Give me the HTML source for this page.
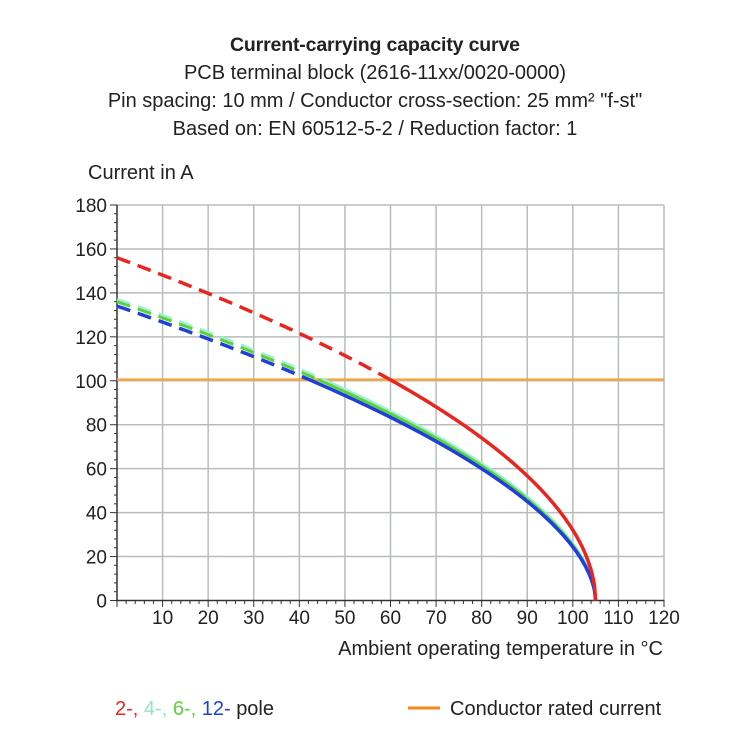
<!DOCTYPE html><html><head><style>body{margin:0;background:#fff}svg text{font-family:"Liberation Sans Narrow","Liberation Sans",sans-serif;fill:#222}</style></head><body>
<svg id="s" width="750" height="750" xmlns="http://www.w3.org/2000/svg">
<text x="375" y="51" font-size="19.5" font-weight="bold" text-anchor="middle" textLength="290">Current-carrying capacity curve</text>
<text x="375" y="79" font-size="20" text-anchor="middle">PCB terminal block (2616-11xx/0020-0000)</text>
<text x="375" y="107" font-size="20" text-anchor="middle">Pin spacing: 10 mm / Conductor cross-section: 25 mm² "f-st"</text>
<text x="375" y="135" font-size="20" text-anchor="middle">Based on: EN 60512-5-2 / Reduction factor: 1</text>
<text x="88" y="179" font-size="20">Current in A</text>
<text x="663" y="655" font-size="20" text-anchor="end">Ambient operating temperature in °C</text>
<g id="g"></g>
<text x="115" y="715" font-size="20"><tspan style="fill:#e8261f">2-, </tspan><tspan style="fill:#8fe8c8">4-, </tspan><tspan style="fill:#5ed13a">6-, </tspan><tspan style="fill:#1e3fd8">12- </tspan> pole</text>
<line x1="408" y1="708" x2="440" y2="708" stroke="#f08a1a" stroke-width="3"/>
<text x="450" y="715" font-size="20">Conductor rated current</text>
</svg>
<script>
var X=t=>117+t*547/120,Y=v=>600.5-v*395.5/180,h='';
for(var i=1;i<=12;i++)h+=`<line x1="${X(i*10)}" y1="205" x2="${X(i*10)}" y2="600.5" stroke="#b8bcbe" stroke-width="1.5"/>`;
for(var j=1;j<=9;j++)h+=`<line x1="117" y1="${Y(j*20)}" x2="664" y2="${Y(j*20)}" stroke="#b8bcbe" stroke-width="1.5"/>`;
h+=`<line x1="117" y1="205" x2="117" y2="601" stroke="#333" stroke-width="1.5"/><line x1="116" y1="600.5" x2="664" y2="600.5" stroke="#333" stroke-width="1.5"/>`;
for(var t=0;t<=120;t+=2)h+=`<line x1="${X(t)}" y1="600" x2="${X(t)}" y2="${t%10?604:607}" stroke="#333"/>`;
for(var v=0;v<=180;v+=4)h+=`<line x1="${v%20?114:110}" y1="${Y(v)}" x2="117" y2="${Y(v)}" stroke="#333"/>`;
for(var i=1;i<=12;i++)h+=`<text x="${X(i*10)}" y="624" font-size="19" text-anchor="middle">${i*10}</text>`;
for(var j=0;j<=9;j++)h+=`<text x="107" y="${Y(j*20)+7}" font-size="19" text-anchor="end">${j*20}</text>`;
h+=`<line x1="117" y1="${Y(100.5)}" x2="664" y2="${Y(100.5)}" stroke="#f5a545" stroke-width="2.5"/>`;
function cur(k,p,c,w){var d1='',d2='',f=T=>k*Math.pow(105-T,p);
for(var T=0;T<=105;T+=0.25){var v=f(T),pt=X(T).toFixed(1)+','+Y(v).toFixed(1)+' ';if(v>=100.5)d1+=pt;else{if(!d2)d2=d1.trim().split(' ').pop()+' ';d2+=pt;}}
h+=`<polyline points="${d1}" fill="none" stroke="${c}" stroke-width="${w}" stroke-dasharray="14 8"/><polyline points="${d2}" fill="none" stroke="${c}" stroke-width="${w}"/>`;}
cur(137/Math.pow(105,0.55),0.55,'#9ff0d4',3.5);
cur(136/Math.pow(105,0.555),0.555,'#5ed13a',3);
cur(134/Math.pow(105,0.56),0.56,'#1e3fd8',3.5);
cur(156/Math.pow(105,0.52),0.52,'#e8261f',3.5);
document.getElementById('g').innerHTML=h;
</script></body></html>
